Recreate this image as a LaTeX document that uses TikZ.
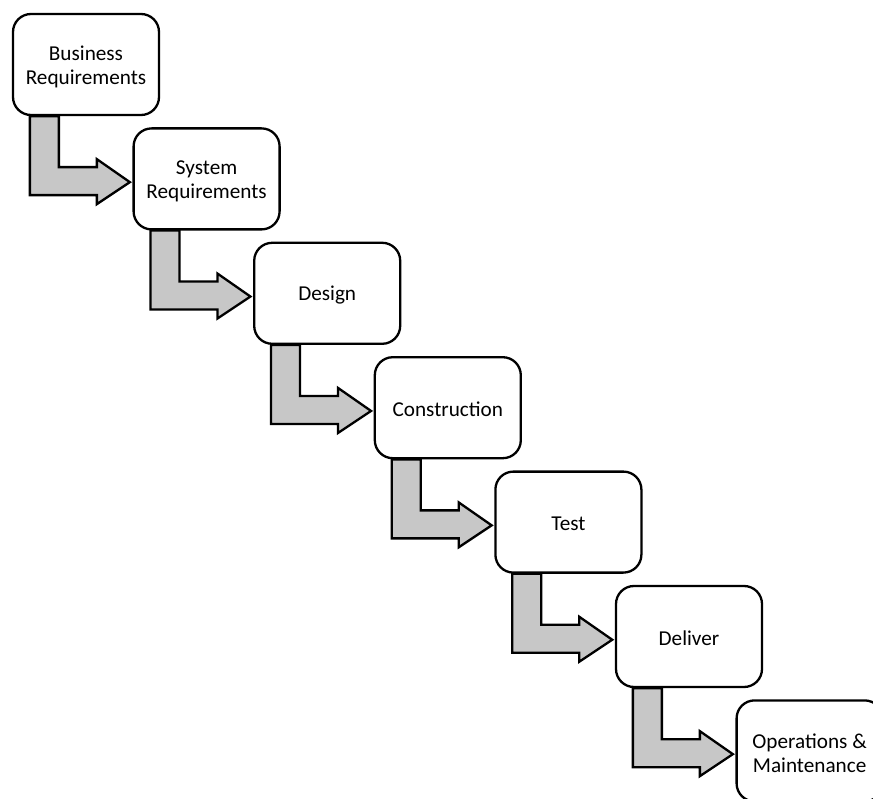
\documentclass[tikz,border=0pt]{standalone}
\usepackage{fontspec}
\setmainfont{Carlito}
\usetikzlibrary{calc,backgrounds}

\tikzset{
  phase/.style={draw=black, line width=2.3pt, rounded corners=18pt, fill=white,
    minimum width=146pt, minimum height=101pt, inner sep=0pt},
  phasetext/.style={align=center, inner sep=0pt,
    font=\fontsize{21.2}{24}\selectfont},
  flowarrow/.style={draw=black, line width=2.3pt, fill=black!22, line join=miter}
}

\begin{document}
\begin{tikzpicture}[x=1pt, y=-1pt]
  \clip (0,0) rectangle (873,799);

  % waterfall phases, each one step right and down from the last
  \foreach \i/\txt in {0/{Business\\Requirements}, 1/{System\\Requirements},
                       2/Design, 3/Construction, 4/Test, 5/Deliver,
                       6/{Operations \&\\Maintenance}} {
    \node[phase] (b\i) at ({86+120.6*\i}, {64.5+114.4*\i}) {};
    \node[phasetext] (t\i) at ($(b\i)+(0,2)$) {\txt};
  }

  % white page and bent arrows from each phase into the next, behind the boxes
  \begin{scope}[on background layer]
    \fill[white] (0,0) rectangle (873,799);
    \foreach \i in {0,...,5} {
      \draw[flowarrow, shift={(b\i.south west)}]
        (18,0) -- (18,79) -- (85,79) -- (85,88) -- (118,66) -- (85,43)
        -- (85,51) -- (47,51) -- (47,0) -- cycle;
    }
  \end{scope}
\end{tikzpicture}
\end{document}
